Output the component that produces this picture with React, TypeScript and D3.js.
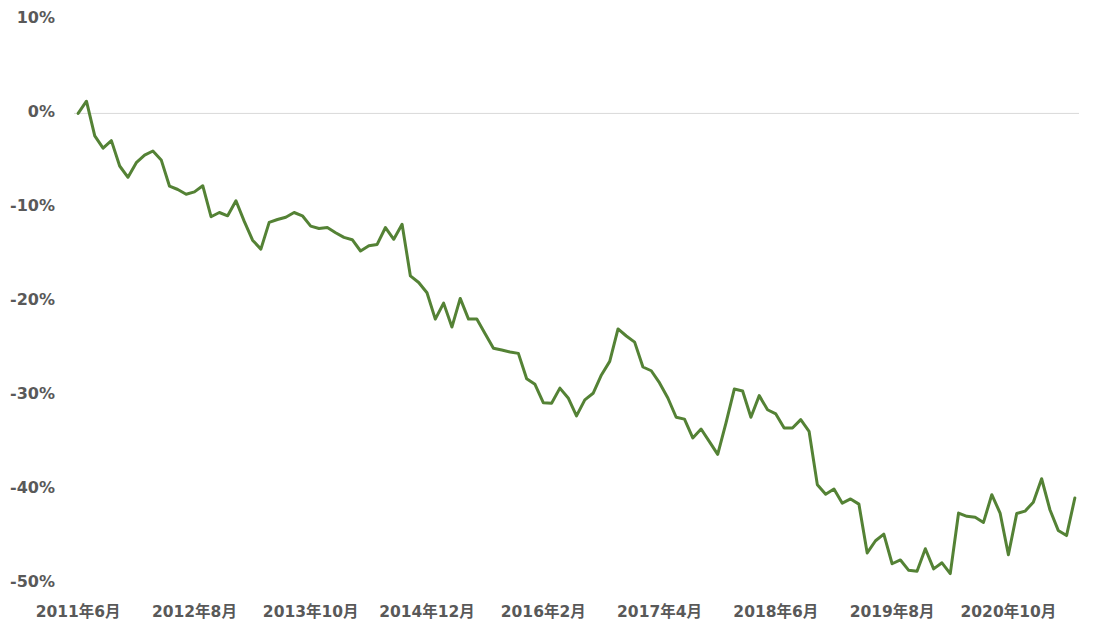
import * as d3 from "d3";

// cumulative return, monthly, 2011年6月 .. 2021年6月 (%)
const returns = [
  0, 1.3, -2.4, -3.7, -2.9, -5.6, -6.8, -5.25, -4.45, -4.0,
  -4.95, -7.75, -8.1, -8.6, -8.35, -7.7, -11.0, -10.55, -10.9, -9.3,
  -11.5, -13.5, -14.45, -11.6, -11.3, -11.05, -10.55, -10.9, -12.0, -12.25,
  -12.15, -12.7, -13.2, -13.45, -14.65, -14.1, -13.95, -12.15, -13.4, -11.8,
  -17.3, -18.0, -19.1, -21.9, -20.2, -22.75, -19.7, -21.9, -21.9, -23.45,
  -25.0, -25.2, -25.4, -25.55, -28.25, -28.85, -30.8, -30.85, -29.25, -30.3,
  -32.2, -30.5, -29.8, -27.85, -26.4, -22.95, -23.7, -24.35, -27.0, -27.4,
  -28.7, -30.3, -32.35, -32.55, -34.55, -33.6, -34.95, -36.3, -32.95, -29.35,
  -29.55, -32.35, -30.05, -31.55, -32.0, -33.5, -33.5, -32.6, -33.85, -39.55,
  -40.55, -40.0, -41.5, -41.05, -41.6, -46.8, -45.5, -44.8, -47.95, -47.55,
  -48.65, -48.75, -46.35, -48.5, -47.85, -49.0, -42.55, -42.9, -43.0, -43.55,
  -40.6, -42.55, -47.0, -42.6, -42.35, -41.4, -38.9, -42.2, -44.4, -44.95,
  -40.95,
];

const months = d3
  .timeMonth
  .range(new Date(2011, 5, 1), new Date(2011, 5 + returns.length, 1))
  .map((d) => `${d.getFullYear()}年${d.getMonth() + 1}月`);

const xTickLabels = [
  "2011年6月", "2012年8月", "2013年10月", "2014年12月", "2016年2月",
  "2017年4月", "2018年6月", "2019年8月", "2020年10月",
];
const yTicks = [10, 0, -10, -20, -30, -40, -50];

const W = 1093;
const H = 637;
const font = "'DejaVu Sans', Verdana, 'Noto Sans CJK SC', sans-serif";

export default function App() {
  const x = d3.scaleBand<string>().domain(months).range([74, 1079]);
  const y = d3.scaleLinear().domain([-50, 10]).range([583, 19.5]);
  const cx = (m: string) => x(m)! + x.bandwidth() / 2;

  const line = d3
    .line<number>()
    .x((_, i) => cx(months[i]))
    .y((d) => y(d));

  return (
    <svg
      width={W}
      height={H}
      style={{ position: "absolute", left: 0, top: 0, background: "#fff" }}
    >
      <line x1={74} x2={1079} y1={y(0)} y2={y(0)} stroke="#d9d9d9" strokeWidth={1} />

      {yTicks.map((t) => (
        <text
          key={t}
          x={55}
          y={y(t) - 2}
          dy="0.36em"
          textAnchor="end"
          fontFamily={font}
          fontWeight="bold"
          fontSize={16}
          fill="#595959"
        >
          {`${t}%`}
        </text>
      ))}

      {xTickLabels.map((m) => (
        <text
          key={m}
          x={cx(m)}
          y={611}
          dy="0.36em"
          textAnchor="middle"
          fontFamily={font}
          fontWeight="bold"
          fontSize={15.5}
          fill="#595959"
        >
          {m}
        </text>
      ))}

      <path
        d={line(returns) ?? ""}
        fill="none"
        stroke="#548235"
        strokeWidth={3}
        strokeLinejoin="round"
        strokeLinecap="round"
      />
    </svg>
  );
}
